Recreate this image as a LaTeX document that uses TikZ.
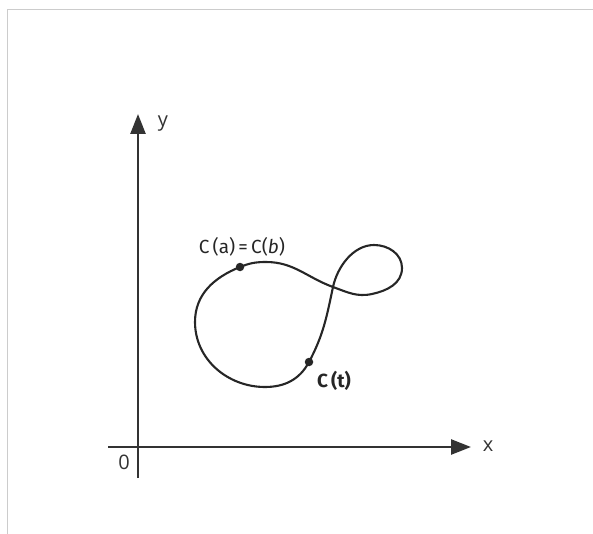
\documentclass[tikz,border=0pt]{standalone}
\usepackage{fontspec}
\setmainfont{Open Sans}
\newfontfamily\curvefont{Fira Sans}
\usetikzlibrary{arrows.meta}
\definecolor{axisgray}{HTML}{333333}
\definecolor{framegray}{HTML}{CCCCCC}
\tikzset{
  axisline/.style={line width=2.6pt, draw=axisgray, -{Triangle[length=20pt,width=15pt]}},
  curveline/.style={line width=2.1pt, draw=black!85},
  pointdot/.style={circle, fill=black!85, inner sep=0pt, minimum size=8.5pt},
  axislabel/.style={font=\fontsize{20}{22}\selectfont, text=axisgray, inner sep=0pt},
  curvelabel/.style={font=\curvefont\fontsize{19}{21}\selectfont, text=black!85, inner sep=0pt},
}
\begin{document}
\begin{tikzpicture}[x=1pt,y=1pt]
\useasboundingbox (0,-534) rectangle (593,0);
\draw[framegray, line width=1pt] (7,-534) -- (7,-10) -- (593,-10);
% axes
\coordinate (xs) at (108,-447);
\coordinate (xe) at (471,-447);
\coordinate (ys) at (138,-478);
\coordinate (ye) at (138,-114);
\draw[axisline] (xs) -- (xe);
\draw[axisline] (ys) -- (ye);
\node[axislabel] (xl) at (488,-446) {x};
\node[axislabel] (yl) at (163,-124) {y};
\node[axislabel] (ol) at (124,-462) {0};
% curve
\coordinate (A) at (240,-267);
\coordinate (T) at (266,-262);
\coordinate (X) at (333,-287);
\coordinate (LB) at (372,-294);
\coordinate (LR) at (402,-268);
\coordinate (LT) at (374,-245);
\coordinate (Ct) at (309,-362);
\coordinate (B) at (265,-387);
\coordinate (L) at (195,-322);
\draw[curveline] (A) to[out=22,in=180] (T)
  to[out=0,in=160] (X)
  to[out=-20,in=192] (LB)
  to[out=12,in=-90] (LR)
  to[out=90,in=0] (LT)
  to[out=180,in=78, looseness=0.9] (X)
  to[out=258,in=62] (Ct)
  to[out=242,in=0] (B)
  to[out=180,in=-90] (L)
  to[out=90,in=202] (A);
\node[pointdot] (ca) at (A) {};
\node[pointdot] (ct) at (Ct) {};
\node[curvelabel] (la) at (242,-247) {C\,(a)\,=\,C(\textit{b})};
\node[curvelabel, font=\curvefont\bfseries\fontsize{19}{21}\selectfont] (lt) at (334,-381) {C\,(t)};
\end{tikzpicture}
\end{document}
